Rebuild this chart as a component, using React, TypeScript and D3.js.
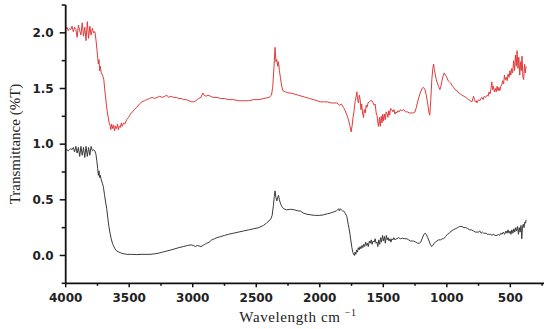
import React, { useEffect } from "react";
import * as d3 from "d3";

// [wavenumber, transmittance]
const redSpectrum: [number, number][] = [
  [4000, 2.03], [3990, 2.05], [3980, 2.02], [3970, 2.04], [3960, 2.03], [3950, 2.06], [3940, 2.01],
  [3930, 2.05], [3920, 2.03], [3910, 1.96], [3900, 2.07], [3890, 2.02], [3880, 1.98], [3870, 2.09],
  [3860, 1.97], [3850, 2.05], [3840, 1.93], [3830, 2.1], [3820, 1.95], [3810, 2.06], [3800, 1.98],
  [3790, 2.04], [3780, 2.0], [3770, 2.01], [3760, 1.92], [3750, 1.8], [3743, 1.72], [3738, 1.76],
  [3733, 1.66], [3728, 1.7], [3720, 1.64], [3710, 1.62], [3700, 1.58], [3690, 1.46], [3680, 1.36],
  [3672, 1.28], [3665, 1.24], [3658, 1.19], [3651, 1.17], [3645, 1.13], [3638, 1.18], [3630, 1.14],
  [3622, 1.17], [3615, 1.12], [3608, 1.16], [3600, 1.14], [3592, 1.18], [3585, 1.13], [3578, 1.16],
  [3570, 1.15], [3562, 1.19], [3555, 1.16], [3545, 1.19], [3535, 1.18], [3520, 1.22], [3505, 1.24],
  [3490, 1.27], [3475, 1.29], [3460, 1.31], [3441, 1.33], [3420, 1.36], [3400, 1.38], [3380, 1.39],
  [3362, 1.4], [3340, 1.41], [3320, 1.42], [3300, 1.41], [3280, 1.42], [3260, 1.43], [3240, 1.42],
  [3220, 1.43], [3204, 1.44], [3190, 1.42], [3170, 1.43], [3150, 1.42], [3130, 1.42], [3110, 1.41],
  [3090, 1.41], [3074, 1.4], [3050, 1.4], [3030, 1.39], [3010, 1.38], [2995, 1.38], [2975, 1.39],
  [2955, 1.41], [2935, 1.42], [2920, 1.46], [2910, 1.44], [2895, 1.43], [2880, 1.44], [2860, 1.43],
  [2840, 1.42], [2810, 1.42], [2780, 1.41], [2750, 1.41], [2720, 1.4], [2680, 1.4], [2640, 1.39],
  [2600, 1.39], [2560, 1.39], [2520, 1.4], [2480, 1.4], [2440, 1.41], [2400, 1.42], [2380, 1.44],
  [2370, 1.52], [2360, 1.7], [2352, 1.87], [2345, 1.74], [2338, 1.76], [2332, 1.7], [2325, 1.74],
  [2318, 1.66], [2310, 1.6], [2300, 1.52], [2290, 1.48], [2270, 1.47], [2250, 1.46], [2233, 1.46],
  [2200, 1.45], [2170, 1.44], [2140, 1.43], [2110, 1.42], [2080, 1.41], [2050, 1.4], [2020, 1.39],
  [1997, 1.38], [1970, 1.38], [1940, 1.38], [1910, 1.37], [1880, 1.37], [1865, 1.37], [1845, 1.35],
  [1830, 1.36], [1813, 1.33], [1800, 1.3], [1790, 1.27], [1780, 1.24], [1770, 1.2], [1762, 1.16],
  [1753, 1.11], [1745, 1.17], [1738, 1.24], [1730, 1.3], [1722, 1.38], [1715, 1.42], [1708, 1.47],
  [1702, 1.4], [1695, 1.37], [1689, 1.44], [1682, 1.4], [1676, 1.31], [1670, 1.36], [1663, 1.28],
  [1656, 1.24], [1650, 1.31], [1642, 1.28], [1635, 1.35], [1629, 1.33], [1620, 1.37], [1610, 1.38],
  [1600, 1.39], [1590, 1.39], [1580, 1.37], [1572, 1.35], [1564, 1.36], [1556, 1.28], [1550, 1.26],
  [1545, 1.21], [1538, 1.16], [1530, 1.24], [1524, 1.16], [1516, 1.25], [1510, 1.19], [1504, 1.27],
  [1498, 1.21], [1490, 1.27], [1484, 1.22], [1478, 1.29], [1471, 1.28], [1464, 1.24], [1456, 1.3],
  [1450, 1.26], [1442, 1.32], [1432, 1.31], [1424, 1.29], [1416, 1.31], [1408, 1.27], [1400, 1.29],
  [1393, 1.28], [1385, 1.3], [1375, 1.29], [1365, 1.31], [1355, 1.3], [1340, 1.31], [1325, 1.29],
  [1310, 1.29], [1295, 1.28], [1280, 1.28], [1265, 1.28], [1250, 1.29], [1240, 1.33], [1230, 1.38],
  [1220, 1.42], [1209, 1.46], [1195, 1.5], [1183, 1.51], [1172, 1.49], [1162, 1.44], [1150, 1.36],
  [1140, 1.28], [1134, 1.26], [1126, 1.4], [1118, 1.58], [1110, 1.68], [1104, 1.72], [1098, 1.67],
  [1090, 1.62], [1083, 1.58], [1075, 1.55], [1065, 1.52], [1055, 1.49], [1050, 1.5], [1040, 1.56],
  [1030, 1.61], [1020, 1.64], [1010, 1.62], [1000, 1.6], [990, 1.57], [980, 1.56], [970, 1.55],
  [960, 1.53], [947, 1.51], [935, 1.49], [920, 1.48], [905, 1.46], [894, 1.45], [880, 1.44],
  [865, 1.43], [850, 1.42], [841, 1.41], [828, 1.4], [815, 1.39], [802, 1.38], [795, 1.41],
  [789, 1.43], [782, 1.4], [775, 1.38], [768, 1.39], [762, 1.37], [755, 1.39], [748, 1.4],
  [740, 1.39], [732, 1.41], [723, 1.42], [715, 1.4], [705, 1.43], [695, 1.42], [683, 1.44],
  [675, 1.43], [667, 1.47], [660, 1.45], [652, 1.5], [646, 1.56], [640, 1.49], [633, 1.52],
  [626, 1.47], [618, 1.5], [611, 1.47], [604, 1.52], [597, 1.48], [590, 1.51], [583, 1.48],
  [575, 1.52], [568, 1.53], [560, 1.57], [553, 1.54], [546, 1.62], [539, 1.58], [532, 1.6],
  [525, 1.57], [518, 1.63], [510, 1.6], [503, 1.66], [496, 1.62], [489, 1.68], [482, 1.64],
  [474, 1.75], [467, 1.66], [460, 1.8], [453, 1.7], [447, 1.84], [440, 1.68], [433, 1.78],
  [426, 1.62], [420, 1.74], [414, 1.66], [408, 1.79], [401, 1.6], [395, 1.58], [388, 1.72],
  [382, 1.64], [376, 1.7],
];

const blackSpectrum: [number, number][] = [
  [4000, 0.95], [3990, 0.95], [3980, 0.94], [3970, 0.95], [3960, 0.96], [3950, 0.95], [3940, 0.97],
  [3930, 0.93], [3920, 0.98], [3910, 0.92], [3900, 0.97], [3890, 0.89], [3880, 0.98], [3870, 0.9],
  [3860, 0.97], [3850, 0.88], [3840, 0.98], [3830, 0.89], [3820, 0.97], [3810, 0.9], [3800, 0.98],
  [3790, 0.94], [3780, 0.95], [3770, 0.94], [3762, 0.91], [3755, 0.85], [3748, 0.78], [3743, 0.72],
  [3738, 0.76], [3733, 0.7], [3728, 0.72], [3720, 0.68], [3712, 0.65], [3704, 0.62], [3695, 0.55],
  [3686, 0.48], [3677, 0.42], [3668, 0.33], [3660, 0.26], [3651, 0.2], [3642, 0.15], [3632, 0.11],
  [3625, 0.09], [3612, 0.06], [3598, 0.04], [3580, 0.03], [3560, 0.02], [3540, 0.015], [3520, 0.01],
  [3480, 0.01], [3440, 0.008], [3400, 0.01], [3360, 0.01], [3336, 0.01], [3300, 0.015], [3270, 0.02],
  [3240, 0.03], [3204, 0.04], [3170, 0.05], [3140, 0.06], [3110, 0.07], [3074, 0.08], [3040, 0.09],
  [3010, 0.095], [2995, 0.09], [2980, 0.08], [2965, 0.09], [2950, 0.085], [2935, 0.08], [2920, 0.09],
  [2905, 0.1], [2890, 0.11], [2870, 0.12], [2850, 0.14], [2830, 0.15], [2810, 0.16], [2780, 0.17],
  [2750, 0.18], [2720, 0.19], [2680, 0.2], [2640, 0.21], [2600, 0.22], [2560, 0.23], [2520, 0.24],
  [2480, 0.25], [2443, 0.27], [2420, 0.29], [2400, 0.31], [2385, 0.33], [2375, 0.36], [2365, 0.45],
  [2358, 0.53], [2352, 0.58], [2345, 0.52], [2338, 0.49], [2332, 0.52], [2325, 0.54], [2318, 0.5],
  [2310, 0.47], [2299, 0.44], [2285, 0.42], [2260, 0.41], [2230, 0.415], [2200, 0.41], [2170, 0.4],
  [2154, 0.4], [2128, 0.38], [2100, 0.37], [2070, 0.365], [2040, 0.36], [2023, 0.36], [2000, 0.36],
  [1970, 0.365], [1940, 0.375], [1918, 0.38], [1895, 0.39], [1870, 0.4], [1860, 0.41], [1852, 0.42],
  [1845, 0.4], [1838, 0.42], [1830, 0.41], [1820, 0.4], [1813, 0.4], [1800, 0.38], [1787, 0.35],
  [1776, 0.28], [1766, 0.22], [1756, 0.14], [1747, 0.07], [1740, 0.03], [1733, 0.01], [1727, 0.0],
  [1722, 0.03], [1716, 0.01], [1710, 0.05], [1703, 0.03], [1697, 0.07], [1690, 0.05], [1683, 0.08],
  [1676, 0.06], [1668, 0.09], [1661, 0.07], [1654, 0.1], [1646, 0.08], [1639, 0.12], [1632, 0.09],
  [1625, 0.11], [1618, 0.08], [1610, 0.13], [1602, 0.11], [1595, 0.14], [1588, 0.1], [1580, 0.13],
  [1572, 0.12], [1564, 0.15], [1557, 0.11], [1550, 0.12], [1543, 0.08], [1536, 0.14], [1528, 0.1],
  [1521, 0.16], [1514, 0.12], [1506, 0.18], [1499, 0.13], [1491, 0.17], [1484, 0.11], [1476, 0.18],
  [1469, 0.14], [1462, 0.16], [1455, 0.13], [1447, 0.15], [1440, 0.12], [1432, 0.15], [1424, 0.14],
  [1416, 0.16], [1408, 0.14], [1400, 0.15], [1393, 0.15], [1380, 0.16], [1365, 0.15], [1350, 0.155],
  [1330, 0.15], [1314, 0.15], [1300, 0.14], [1285, 0.13], [1270, 0.13], [1262, 0.13], [1245, 0.12],
  [1230, 0.11], [1215, 0.11], [1205, 0.12], [1195, 0.15], [1180, 0.19], [1170, 0.2], [1162, 0.19],
  [1150, 0.16], [1140, 0.13], [1130, 0.1], [1120, 0.08], [1110, 0.09], [1100, 0.11], [1090, 0.12],
  [1078, 0.13], [1065, 0.14], [1050, 0.14], [1035, 0.15], [1025, 0.15], [1010, 0.17], [995, 0.19],
  [980, 0.2], [965, 0.22], [950, 0.23], [933, 0.24], [915, 0.25], [900, 0.26], [881, 0.26],
  [865, 0.25], [850, 0.25], [835, 0.24], [820, 0.23], [805, 0.23], [790, 0.22], [775, 0.21],
  [762, 0.21], [750, 0.21], [740, 0.22], [730, 0.2], [720, 0.21], [710, 0.2], [700, 0.2],
  [690, 0.2], [683, 0.19], [670, 0.19], [655, 0.19], [645, 0.18], [635, 0.19], [620, 0.18],
  [605, 0.18], [595, 0.19], [585, 0.18], [575, 0.2], [565, 0.19], [555, 0.21], [545, 0.19],
  [535, 0.22], [526, 0.2], [518, 0.23], [510, 0.2], [502, 0.22], [495, 0.19], [488, 0.23],
  [480, 0.2], [472, 0.24], [465, 0.21], [458, 0.25], [450, 0.22], [443, 0.26], [436, 0.19],
  [430, 0.25], [423, 0.21], [416, 0.27], [410, 0.15], [404, 0.26], [398, 0.28], [392, 0.25],
  [386, 0.3], [380, 0.29], [376, 0.32],
];

const xMajorTicks = [4000, 3500, 3000, 2500, 2000, 1500, 1000, 500];
const xMinorTicks = [3750, 3250, 2750, 2250, 1750, 1250, 750, 250];
const yMajorTicks = [0, 0.5, 1.0, 1.5, 2.0];
const yMinorTicks = [-0.25, 0.25, 0.75, 1.25, 1.75, 2.25];

export default function App() {
  useEffect(() => {
    const width = 550;
    const height = 329;
    const left = 65.7;
    const right = 544;
    const top = 5;
    const bottom = 283.3;

    const root = d3.select("#ftir-chart");
    root.selectAll("*").remove();
    const svg = root
      .append("svg")
      .attr("width", width)
      .attr("height", height)
      .attr("style", "position:absolute; left:0; top:0; background:#fff");

    const x = d3.scaleLinear().domain([4000, 235]).range([left, right]);
    const y = d3.scaleLinear().domain([-0.25, 2.25]).range([bottom, top]);

    const line = d3
      .line<[number, number]>()
      .x((d) => x(d[0]))
      .y((d) => y(d[1]));

    svg
      .append("path")
      .datum(blackSpectrum)
      .attr("d", line)
      .attr("fill", "none")
      .attr("stroke", "#3a3a3a")
      .attr("stroke-width", 1);

    svg
      .append("path")
      .datum(redSpectrum)
      .attr("d", line)
      .attr("fill", "none")
      .attr("stroke", "#e23a3a")
      .attr("stroke-width", 1);

    const tickFont = "DejaVu Sans, Verdana, sans-serif";

    // y axis
    const yAxis = svg.append("g").attr("stroke", "#111");
    yAxis
      .append("line")
      .attr("x1", left)
      .attr("x2", left)
      .attr("y1", y(2.25))
      .attr("y2", y(-0.25))
      .attr("stroke-width", 1.8);
    yAxis
      .selectAll("line.major")
      .data(yMajorTicks)
      .join("line")
      .attr("class", "major")
      .attr("x1", left - 6)
      .attr("x2", left)
      .attr("y1", (d) => y(d))
      .attr("y2", (d) => y(d))
      .attr("stroke-width", 1.5);
    yAxis
      .selectAll("line.minor")
      .data(yMinorTicks)
      .join("line")
      .attr("class", "minor")
      .attr("x1", left - 4)
      .attr("x2", left)
      .attr("y1", (d) => y(d))
      .attr("y2", (d) => y(d))
      .attr("stroke-width", 1.5);
    svg
      .append("g")
      .selectAll("text")
      .data(yMajorTicks)
      .join("text")
      .attr("x", left - 12)
      .attr("y", (d) => y(d))
      .attr("dy", "0.35em")
      .attr("text-anchor", "end")
      .attr("font-family", tickFont)
      .attr("font-weight", "bold")
      .attr("font-size", 12)
      .attr("fill", "#222")
      .text((d) => d3.format(".1f")(d));

    // x axis
    const xAxis = svg.append("g").attr("stroke", "#111");
    xAxis
      .append("line")
      .attr("x1", left)
      .attr("x2", right)
      .attr("y1", bottom)
      .attr("y2", bottom)
      .attr("stroke-width", 1.8);
    xAxis
      .selectAll("line.major")
      .data(xMajorTicks)
      .join("line")
      .attr("class", "major")
      .attr("x1", (d) => x(d))
      .attr("x2", (d) => x(d))
      .attr("y1", bottom)
      .attr("y2", bottom + 4)
      .attr("stroke-width", 1.5);
    xAxis
      .selectAll("line.minor")
      .data(xMinorTicks)
      .join("line")
      .attr("class", "minor")
      .attr("x1", (d) => x(d))
      .attr("x2", (d) => x(d))
      .attr("y1", bottom)
      .attr("y2", bottom + 2.5)
      .attr("stroke-width", 1.5);
    svg
      .append("g")
      .selectAll("text")
      .data(xMajorTicks)
      .join("text")
      .attr("x", (d) => x(d))
      .attr("y", 301.5)
      .attr("text-anchor", "middle")
      .attr("font-family", tickFont)
      .attr("font-weight", "bold")
      .attr("font-size", 12)
      .attr("fill", "#222")
      .text((d) => String(d));

    // axis titles
    svg
      .append("text")
      .attr("transform", `translate(20, 144) rotate(-90)`)
      .attr("text-anchor", "middle")
      .attr("font-family", "Liberation Serif, Times New Roman, serif")
      .attr("font-size", 15)
      .attr("fill", "#222")
      .text("Transmittance (%T)");

    const xTitle = svg
      .append("text")
      .attr("x", 298)
      .attr("y", 322)
      .attr("text-anchor", "middle")
      .attr("font-family", "Liberation Serif, Times New Roman, serif")
      .attr("font-size", 15)
      .attr("letter-spacing", 0.6)
      .attr("fill", "#222");
    xTitle.append("tspan").text("Wavelength cm ");
    xTitle
      .append("tspan")
      .attr("dy", -6)
      .attr("font-size", 10)
      .text("−1");
  }, []);

  return <div id='ftir-chart'></div>;
}
